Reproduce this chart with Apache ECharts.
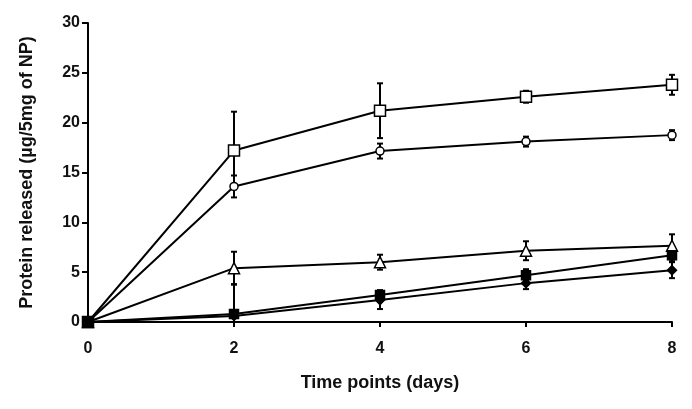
<!DOCTYPE html>
<html>
<head>
<meta charset="utf-8">
<script src="https://cdn.jsdelivr.net/npm/echarts@6/dist/echarts.min.js"></script>
<style>
  html, body { margin: 0; padding: 0; background: #fff; }
  #chart { width: 692px; height: 409px; }
</style>
</head>
<body>
<div id="chart"></div>
<script>
// time points (days)
const days = [0, 2, 4, 6, 8];

// mean protein released per series, and their error (+/-)
const openSquare = [0, 17.2, 21.2, 22.6, 23.8];
const openSquareErr = [0, 3.9, 2.75, 0.6, 1.0];
const openCircle = [0, 13.6, 17.15, 18.1, 18.75];
const openCircleErr = [0, 1.1, 0.75, 0.5, 0.5];
const openTriangle = [0, 5.4, 6.0, 7.15, 7.65];
const openTriangleErr = [0, 1.65, 0.75, 0.95, 1.15];
const filledSquare = [0, 0.8, 2.7, 4.7, 6.7];
const filledSquareErr = [0, 3.0, 0.5, 0.6, 0.6];
const filledDiamond = [0, 0.6, 2.2, 3.9, 5.2];
const filledDiamondErr = [0, 0.6, 0.9, 0.6, 0.8];

const xTicks = [0, 2, 4, 6, 8];
const yTicks = [0, 5, 10, 15, 20, 25, 30];

const font = 'Liberation Sans, Arial, sans-serif';

function pairs(vals) {
  return days.map((d, i) => [d, vals[i]]);
}
function errData(vals, errs) {
  return days.map((d, i) => [d, vals[i], errs[i]]).filter(p => p[2] > 0);
}

function renderErr(params, api) {
  const x = api.value(0), y = api.value(1), e = api.value(2);
  const hi = api.coord([x, y + e]);
  const lo = api.coord([x, Math.max(0, y - e)]);
  const w = 3;
  const st = { stroke: '#000', lineWidth: 2 };
  return {
    type: 'group',
    children: [
      { type: 'line', shape: { x1: hi[0], y1: hi[1], x2: lo[0], y2: lo[1] }, style: st },
      { type: 'line', shape: { x1: hi[0] - w, y1: hi[1], x2: hi[0] + w, y2: hi[1] }, style: st },
      { type: 'line', shape: { x1: lo[0] - w, y1: lo[1], x2: lo[0] + w, y2: lo[1] }, style: st }
    ]
  };
}

function lineSeries(name, vals, symbol, size, filled) {
  return {
    name: name,
    type: 'line',
    data: pairs(vals),
    symbol: symbol,
    symbolSize: size,
    showAllSymbol: true,
    z: 3,
    lineStyle: { color: '#000', width: 2 },
    itemStyle: {
      color: filled ? '#000' : '#fff',
      borderColor: '#000',
      borderWidth: 1.5
    },
    emphasis: { disabled: true }
  };
}

function errSeries(vals, errs) {
  return {
    type: 'custom',
    renderItem: renderErr,
    data: errData(vals, errs),
    z: 2,
    silent: true
  };
}

const chart = echarts.init(document.getElementById('chart'));
chart.setOption({
  animation: false,
  backgroundColor: '#fff',
  grid: { left: 88, right: 20, top: 23, bottom: 87 },
  xAxis: {
    type: 'value',
    min: xTicks[0],
    max: xTicks[xTicks.length - 1],
    interval: 2,
    name: 'Time points (days)',
    nameLocation: 'middle',
    nameGap: 52,
    nameTextStyle: { fontFamily: font, fontWeight: 'bold', fontSize: 18, color: '#111' },
    axisLine: { lineStyle: { color: '#000', width: 2 } },
    axisTick: { show: true, length: 5, lineStyle: { color: '#000', width: 2 } },
    axisLabel: { fontFamily: font, fontWeight: 'bold', fontSize: 16, color: '#111', margin: 19 },
    splitLine: { show: false }
  },
  yAxis: {
    type: 'value',
    min: yTicks[0],
    max: yTicks[yTicks.length - 1],
    interval: 5,
    name: 'Protein released (µg/5mg of NP)',
    nameLocation: 'middle',
    nameGap: 52,
    nameTextStyle: { fontFamily: font, fontWeight: 'bold', fontSize: 18, color: '#111' },
    axisLine: { show: true, lineStyle: { color: '#000', width: 2 } },
    axisTick: { show: true, length: 6, lineStyle: { color: '#000', width: 2 } },
    axisLabel: { fontFamily: font, fontWeight: 'bold', fontSize: 16, color: '#111', margin: 8 },
    splitLine: { show: false }
  },
  series: [
    errSeries(openSquare, openSquareErr),
    errSeries(openCircle, openCircleErr),
    errSeries(openTriangle, openTriangleErr),
    errSeries(filledSquare, filledSquareErr),
    errSeries(filledDiamond, filledDiamondErr),
    lineSeries('open square', openSquare, 'rect', 11, false),
    lineSeries('open circle', openCircle, 'circle', 8, false),
    lineSeries('open triangle', openTriangle, 'triangle', 11, false),
    lineSeries('filled diamond', filledDiamond, 'diamond', 9, true),
    lineSeries('filled square', filledSquare, 'rect', 9, true)
  ]
});
</script>
</body>
</html>
